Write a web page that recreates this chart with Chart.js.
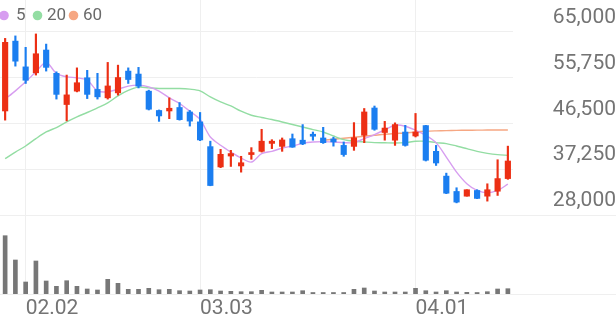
<!DOCTYPE html>
<html>
<head>
<meta charset="utf-8">
<script src="https://cdn.jsdelivr.net/npm/chart.js@4.4.1/dist/chart.umd.min.js"></script>
<style>
  html, body { margin: 0; padding: 0; background: #fff; }
  #wrap { position: relative; width: 616px; height: 321px; }
</style>
</head>
<body>
<div id="wrap"><canvas id="stockChart" width="616" height="321"></canvas></div>
<script>
const dates = [
  '01.29', '02.01', '02.02', '02.03', '02.04', '02.05', '02.08', '02.09', '02.15', '02.16',
  '02.17', '02.18', '02.19', '02.22', '02.23', '02.24', '02.25', '02.26', '03.02', '03.03',
  '03.04', '03.05', '03.08', '03.09', '03.10', '03.11', '03.12', '03.15', '03.16', '03.17',
  '03.18', '03.19', '03.22', '03.23', '03.24', '03.25', '03.26', '03.29', '03.30', '03.31',
  '04.01', '04.02', '04.05', '04.06', '04.07', '04.08', '04.09', '04.12', '04.13', '04.14'
];
const shownDates = ['02.02', '03.03', '04.01'];

const opens = [
  49000, 63100, 57900, 56700, 61300, 56600, 50300, 53000, 55700, 53350,
  51650, 52650, 57050, 56450, 53000, 49100, 49000, 49700, 48800, 46800,
  41800, 37700, 39900, 37900, 40200, 40850, 42450, 41850, 43400, 43100,
  44150, 43550, 43350, 42050, 41850, 44100, 49600, 44650, 43100, 44750,
  43950, 46050, 40850, 35850, 32750, 31800, 32950, 31800, 32800, 35350
];
const highs = [
  63650, 64150, 61850, 64550, 62500, 56900, 56250, 57700, 57200, 56600,
  58800, 58250, 57700, 57800, 53200, 49200, 51650, 50700, 49100, 48700,
  42900, 41250, 41050, 39850, 41600, 45300, 43200, 43550, 44350, 46250,
  44750, 45700, 43700, 42750, 46650, 49500, 50000, 46900, 46600, 46100,
  48500, 46100, 42050, 36450, 33500, 33100, 33100, 34300, 39150, 41900
];
const lows = [
  47150, 58050, 54550, 56250, 57050, 51400, 47000, 52850, 51500, 51400,
  51400, 52200, 54550, 53650, 49200, 46900, 47450, 47150, 45950, 43000,
  33900, 37550, 37800, 36650, 39250, 40700, 41400, 40850, 41650, 42200,
  43100, 42450, 41900, 39850, 41050, 42600, 45100, 43100, 42050, 41900,
  43750, 38900, 38000, 32300, 30450, 31800, 31300, 30800, 31950, 35200
];
const closes = [
  62850, 59050, 55200, 60550, 57800, 52350, 52250, 54700, 52350, 51850,
  54050, 55750, 55350, 54000, 49350, 48000, 49550, 47250, 46950, 43150,
  33950, 40250, 40400, 38550, 40500, 42900, 42900, 43150, 41700, 42350,
  43900, 42600, 42750, 40200, 43600, 48800, 45300, 45550, 46250, 42050,
  44750, 39050, 38500, 32400, 30600, 33100, 31350, 33100, 35350, 38900
];
// thousand shares
const volumes = [
  2915, 1700, 600, 1650, 650, 385, 665, 385, 250, 200,
  735, 535, 235, 235, 285, 215, 235, 165, 150, 200,
  215, 150, 135, 115, 115, 185, 100, 100, 100, 165,
  75, 75, 75, 75, 235, 300, 150, 100, 100, 100,
  285, 165, 100, 165, 100, 85, 75, 115, 250, 265
];

const ma5 = [
  51380, 53060, 54880, 56900, 58800, 56580, 55890, 55690, 55220, 53060,
  52860, 53400, 54010, 54210, 53870, 53000, 51640, 50510, 48950, 47270,
  43750, 42070, 40710, 39500, 38690, 40390, 40850, 41520, 41930, 42470,
  42740, 42820, 42740, 42610, 42610, 43420, 44230, 45200, 46120, 45910,
  45100, 44090, 42610, 39700, 36660, 34320, 32960, 32490, 32960, 34230
];
const ma20 = [
  39380, 40710, 41930, 43420, 44760, 45650, 46780, 47800, 48690, 49620,
  50630, 52050, 53140, 53810, 53660, 53540, 53540, 53540, 53400, 53060,
  51840, 50830, 50020, 48950, 48140, 47690, 47270, 46780, 46260, 45770,
  45240, 44760, 43950, 43220, 42880, 42740, 42610, 42570, 42530, 42610,
  42880, 42880, 42610, 42410, 41930, 41400, 40850, 40450, 40180, 40040
];
const ma60 = [
  null, null, null, null, null, null, null, null, null, null,
  null, null, null, null, null, null, null, null, null, null,
  null, null, null, null, null, null, null, null, null, null,
  null, 43080, 43280, 43480, 43690, 43890, 44090, 44290, 44440, 44560,
  44760, 44900, 44980, 45040, 45080, 45110, 45130, 45150, 45160, 45170
];

const priceTicks = [28000, 37250, 46500, 55750, 65000];
const priceMin = 28000;
const priceMax = 71400;
const volumeMax = 3950;

const upColor = '#ec2f14';
const downColor = '#1b7ef0';
const ma5Color = '#d79ef0';
const ma20Color = '#93dda3';
const ma60Color = '#f6a783';
const volumeColor = '#777777';
const gridColor = '#efefef';
const textColor = '#747474';

const candleColors = dates.map((d, i) => closes[i] >= opens[i] ? upColor : downColor);

// full-width separators around the volume panel
const panelLines = {
  id: 'panelLines',
  beforeDatasetsDraw(chart) {
    const ctx = chart.ctx;
    const vol = chart.scales.yv;
    ctx.save();
    ctx.strokeStyle = gridColor;
    ctx.lineWidth = 1;
    [vol.top, vol.bottom].forEach(y => {
      const py = Math.round(y) + 0.5;
      ctx.beginPath();
      ctx.moveTo(0, py);
      ctx.lineTo(chart.width, py);
      ctx.stroke();
    });
    ctx.restore();
  }
};

const maLegend = {
  id: 'maLegend',
  afterDraw(chart) {
    const ctx = chart.ctx;
    const items = [
      { text: '5', color: ma5Color, cx: 4, tx: 16 },
      { text: '20', color: ma20Color, cx: 37.5, tx: 47 },
      { text: '60', color: ma60Color, cx: 73.5, tx: 83 }
    ];
    ctx.save();
    ctx.font = '17px Roboto';
    ctx.textBaseline = 'middle';
    ctx.textAlign = 'left';
    items.forEach(item => {
      ctx.fillStyle = item.color;
      ctx.beginPath();
      ctx.arc(item.cx, 15.5, 4.8, 0, Math.PI * 2);
      ctx.fill();
      ctx.fillStyle = '#6a6a6a';
      ctx.fillText(item.text, item.tx, 16);
    });
    ctx.restore();
  }
};

const ctx = document.getElementById('stockChart');
new Chart(ctx, {
  type: 'bar',
  data: {
    labels: dates,
    datasets: [
      {
        type: 'line',
        label: '5',
        data: ma5,
        yAxisID: 'y',
        borderColor: ma5Color,
        borderWidth: 1.4,
        pointRadius: 0,
        tension: 0.3,
        order: 5
      },
      {
        type: 'line',
        label: '20',
        data: ma20,
        yAxisID: 'y',
        borderColor: ma20Color,
        borderWidth: 1.4,
        pointRadius: 0,
        tension: 0.3,
        order: 6
      },
      {
        type: 'line',
        label: '60',
        data: ma60,
        yAxisID: 'y',
        borderColor: ma60Color,
        borderWidth: 1.4,
        pointRadius: 0,
        tension: 0.3,
        order: 7
      },
      {
        label: 'wick',
        data: dates.map((d, i) => [lows[i], highs[i]]),
        yAxisID: 'y',
        backgroundColor: candleColors,
        barThickness: 1.5,
        grouped: false,
        order: 2
      },
      {
        label: 'body',
        data: dates.map((d, i) => [opens[i], closes[i]]),
        yAxisID: 'y',
        backgroundColor: candleColors,
        barThickness: 5.5,
        minBarLength: 2,
        grouped: false,
        order: 1
      },
      {
        label: 'volume',
        data: volumes,
        yAxisID: 'yv',
        backgroundColor: volumeColor,
        barThickness: 4,
        grouped: false,
        order: 3
      }
    ]
  },
  options: {
    responsive: false,
    animation: false,
    devicePixelRatio: 1,
    layout: { padding: 0 },
    plugins: {
      legend: { display: false },
      tooltip: { enabled: false }
    },
    scales: {
      x: {
        offset: true,
        border: { display: false },
        grid: {
          offset: false,
          drawTicks: false,
          color: c => shownDates.includes(dates[c.index]) ? gridColor : 'rgba(0,0,0,0)'
        },
        ticks: {
          autoSkip: false,
          maxRotation: 0,
          align: 'start',
          padding: 2,
          color: textColor,
          font: { family: 'Roboto', size: 21 },
          callback: (v, i) => shownDates.includes(dates[i]) ? dates[i] : ''
        },
        afterFit: s => {
          s.height = 27;
          s.paddingLeft = 0;
          s.paddingRight = 0;
        }
      },
      y: {
        position: 'right',
        stack: 'panes',
        stackWeight: 215,
        min: priceMin,
        max: priceMax,
        border: { display: false },
        grid: { color: gridColor, drawTicks: false },
        afterBuildTicks: s => { s.ticks = priceTicks.map(v => ({ value: v })); },
        ticks: {
          autoSkip: false,
          padding: 34,
          crossAlign: 'far',
          labelOffset: -14,
          color: textColor,
          font: { family: 'Roboto', size: 21 },
          callback: v => v.toLocaleString('en-US')
        },
        afterFit: s => {
          s.width = 103;
          s.paddingTop = 0;
          s.paddingBottom = 0;
        }
      },
      yv: {
        position: 'right',
        stack: 'panes',
        stackWeight: 79,
        min: 0,
        max: volumeMax,
        border: { display: false },
        grid: { display: false },
        ticks: { display: false },
        afterFit: s => {
          s.paddingTop = 0;
          s.paddingBottom = 0;
        }
      }
    }
  },
  plugins: [panelLines, maLegend]
});
</script>
</body>
</html>
